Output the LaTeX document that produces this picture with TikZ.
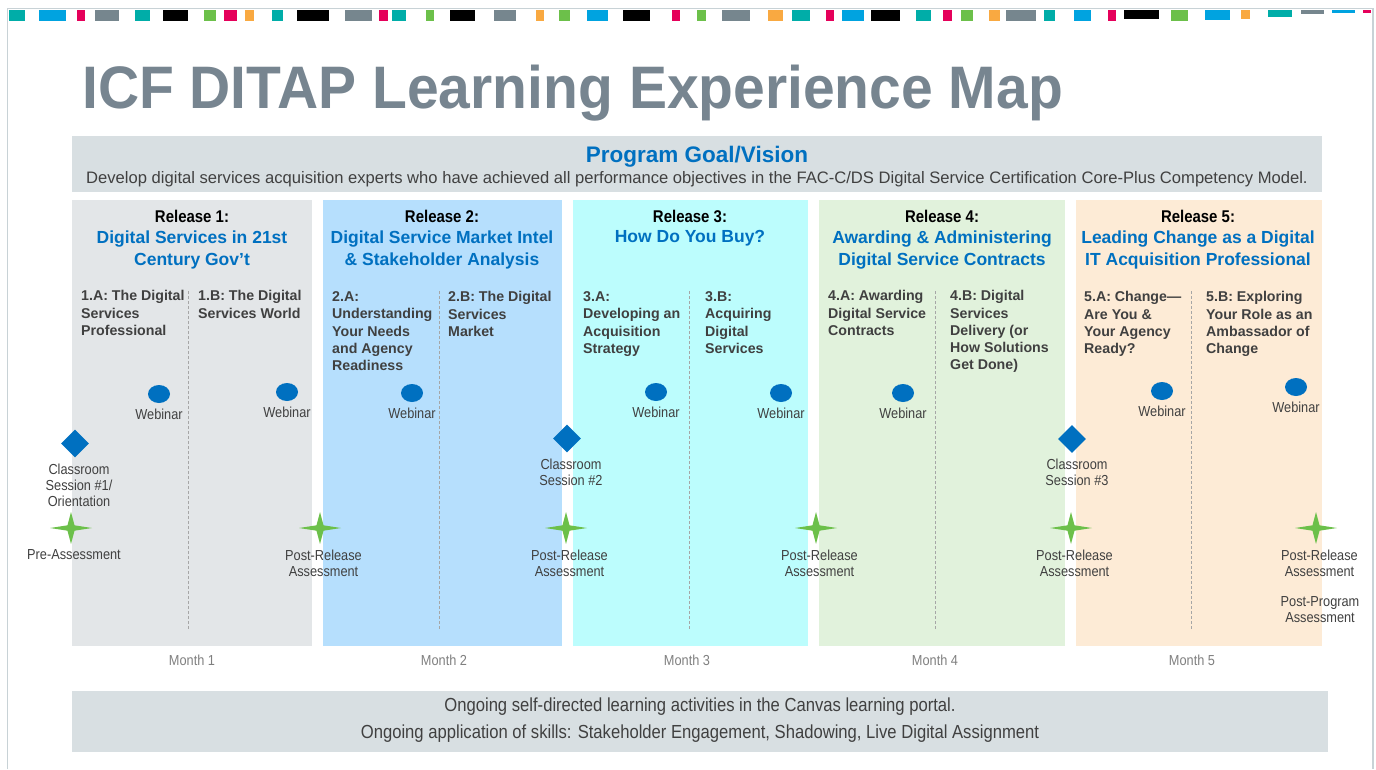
\documentclass[tikz,border=0pt]{standalone}
\usepackage{fontspec}
\setmainfont{Liberation Sans}
\newfontfamily\narrowfont{Liberation Sans}[FakeStretch=0.88]
\newfontfamily\headfont{Liberation Sans}[FakeStretch=0.95]
\usetikzlibrary{shapes.geometric}

\definecolor{slate}{HTML}{778590}
\definecolor{ditapblue}{HTML}{0070C0}
\definecolor{ink}{HTML}{404040}
\definecolor{monthgray}{HTML}{7F7F7F}
\definecolor{goalgray}{HTML}{D8DFE2}
\definecolor{framegray}{HTML}{C8D2D6}
\definecolor{relA}{HTML}{E3E6E8}
\definecolor{relB}{HTML}{B6DFFD}
\definecolor{relC}{HTML}{BCFDFD}
\definecolor{relD}{HTML}{E1F2DC}
\definecolor{relE}{HTML}{FDEBD6}
\definecolor{sparkgreen}{HTML}{6CC04A}
\definecolor{stripteal}{HTML}{00ADA8}
\definecolor{stripsky}{HTML}{00A3E0}
\definecolor{strippink}{HTML}{E5005A}
\definecolor{stripsteel}{HTML}{76868E}
\definecolor{striplime}{HTML}{6CC04A}
\definecolor{stripamber}{HTML}{F9A941}

\begin{document}
\begin{tikzpicture}[x=1pt, y=-1pt,
  every node/.style={inner sep=0pt, text=ink},
  rel/.style={font=\narrowfont\fontsize{17}{20}\selectfont\bfseries, text=black, anchor=base},
  reltitle/.style={font=\fontsize{17.5}{22}\selectfont\bfseries, text=ditapblue, align=center, anchor=north},
  module/.style={font=\fontsize{14.2}{17.2}\selectfont\bfseries, align=left, anchor=north west},
  webinar/.style={ellipse, fill=ditapblue, minimum width=22pt, minimum height=18pt},
  session/.style={diamond, fill=ditapblue, minimum width=28pt, minimum height=28pt},
  spark/.style={star, star points=4, star point ratio=4.2, fill=sparkgreen, minimum size=42pt, yscale=0.76, transform shape},
  marklbl/.style={font=\narrowfont\fontsize{14.5}{16}\selectfont, align=center, anchor=north},
  divider/.style={draw=gray!70, dash pattern=on 3pt off 2pt, line width=0.6pt}
]
\useasboundingbox (0,0) rectangle (1376,769);

% frame and colour strip
\draw[framegray, line width=1.2pt] (7.5,769) -- (7.5,8.5) -- (1373,8.5) -- (1373,769);
\foreach \a/\b/\c/\d in {9/25/stripteal/21, 39/66/stripsky/21, 77/85/strippink/21, 95/119/stripsteel/21,
  135/150/stripteal/21, 163/188/black/21, 204/216/striplime/21, 224/237/strippink/21, 245/254/stripamber/21,
  272/283/stripteal/21, 297/329/black/21, 345/372/stripsteel/21, 379/388/strippink/21, 392/406/stripteal/21,
  426/434/striplime/21, 450/475/black/21, 494/516/stripsteel/21, 536/544/stripamber/21, 559/570/striplime/21,
  587/608/stripsky/21, 623/650/black/21, 672/680/strippink/21, 697/706/striplime/21, 722/750/stripsteel/21,
  768/783/stripamber/21, 792/810/stripteal/21, 826/834/strippink/21, 842/864/stripsky/21, 871/900/black/21,
  916/931/stripteal/21, 943/952/strippink/21, 961/973/striplime/21, 989/1000/stripamber/21, 1006/1036/stripsteel/21,
  1044/1055/stripteal/21, 1074/1091/stripsky/21, 1108/1116/strippink/21, 1124/1159/black/18.5,
  1171/1188/striplime/21, 1205/1230/stripsky/20, 1241/1250/stripamber/18.5, 1268/1292/stripteal/16.5,
  1301/1324/stripsteel/13.5, 1332/1355/stripsky/12.7, 1363/1371/strippink/12.7}
  \fill[\c] (\a,9.5) rectangle (\b,\d);

% title and goal
\node(title) at (82,108) [anchor=base west, font=\headfont\fontsize{60}{60}\selectfont\bfseries, text=slate] {ICF DITAP Learning Experience Map};
\fill[goalgray] (72,136) rectangle (1322,192);
\node(goal) at (697,162) [anchor=base, font=\fontsize{22.5}{24}\selectfont\bfseries, text=ditapblue] {Program Goal/Vision};
\node(vision) at (697,183.5) [anchor=base, font=\fontsize{16.6}{18}\selectfont] {Develop digital services acquisition experts who have achieved all performance objectives in the FAC-C/DS Digital Service Certification Core-Plus Competency Model.};

% release columns
\fill[relA] (72,200) rectangle (312,646);
\fill[relB] (323,200) rectangle (562,646);
\fill[relC] (573,200) rectangle (808,646);
\fill[relD] (819,200) rectangle (1065,646);
\fill[relE] (1076,200) rectangle (1322,646);
\foreach \x in {188,439,689,935,1191}
  \draw[divider] (\x,291) -- (\x,630);

\node[rel](r1) at (192,222) {Release 1:};
\node[rel](r2) at (442,222) {Release 2:};
\node[rel](r3) at (690,222) {Release 3:};
\node[rel](r4) at (942,222) {Release 4:};
\node[rel](r5) at (1198,222) {Release 5:};
\node[reltitle](t1) at (192,230.5) {Digital Services in 21st\\Century Gov’t};
\node[reltitle](t2) at (442,230.5) {Digital Service Market Intel\\\& Stakeholder Analysis};
\node[reltitle](t3) at (690,230.5) {How Do You Buy?};
\node[reltitle](t4) at (942,230.5) {Awarding \& Administering\\Digital Service Contracts};
\node[reltitle](t5) at (1198,230.5) {Leading Change as a Digital\\IT Acquisition Professional};

\node[module](m1a) at (81,290.5) {1.A: The Digital\\Services\\Professional};
\node[module](m1b) at (198,290.5) {1.B: The Digital\\Services World};
\node[module](m2a) at (332,291.5) {2.A:\\Understanding\\Your Needs\\and Agency\\Readiness};
\node[module](m2b) at (448,291.5) {2.B: The Digital\\Services\\Market};
\node[module](m3a) at (583,291.5) {3.A:\\Developing an\\Acquisition\\Strategy};
\node[module](m3b) at (705,291.5) {3.B:\\Acquiring\\Digital\\Services};
\node[module](m4a) at (828,290.5) {4.A: Awarding\\Digital Service\\Contracts};
\node[module](m4b) at (950,290.5) {4.B: Digital\\Services\\Delivery (or\\How Solutions\\Get Done)};
\node[module](m5a) at (1084,291.5) {5.A: Change—\\Are You \&\\Your Agency\\Ready?};
\node[module](m5b) at (1206,291.5) {5.B: Exploring\\Your Role as an\\Ambassador of\\Change};

% webinars
\foreach \n/\x/\y in {1/159/394, 2/287/392, 3/412/393, 4/656/392, 5/781/393, 6/903/393, 7/1162/391, 8/1296/387}{
  \node[webinar](w\n) at (\x,\y) {};
  \node[marklbl](wl\n) at (\x,\y+14.5) {Webinar};
}

% classroom sessions
\node[session](c1) at (75,443.5) {};
\node[session](c2) at (567,438.5) {};
\node[session](c3) at (1072,439) {};
\node[marklbl](cl1) at (79,463.5) {Classroom\\Session \#1/\\Orientation};
\node[marklbl](cl2) at (571,458.5) {Classroom\\Session \#2};
\node[marklbl](cl3) at (1077,458.5) {Classroom\\Session \#3};

% assessments
\node[spark](s1) at (71,528) {};
\node[marklbl](sl1) at (74,549.5) {Pre-Assessment};
\foreach \n/\x in {2/320, 3/566, 4/816, 5/1071, 6/1316}{
  \node[spark](s\n) at (\x,528) {};
  \node[marklbl](sl\n) at (\x+3.5,549.5) {Post-Release\\Assessment};
}
\node[marklbl](pp) at (1320,596) {Post-Program\\Assessment};

% months
\foreach \n/\x in {1/192, 2/444, 3/687, 4/935, 5/1192}
  \node(mo\n) at (\x,665) [anchor=base, font=\narrowfont\fontsize{14.5}{16}\selectfont, text=monthgray] {Month \n};

% ongoing activities
\fill[goalgray] (72,691) rectangle (1328,752);
\node(on1) at (700,711.5) [anchor=base, font=\narrowfont\fontsize{18.9}{20}\selectfont] {Ongoing self-directed learning activities in the Canvas learning portal.};
\node(on2) at (700,738.5) [anchor=base, font=\narrowfont\fontsize{18.9}{20}\selectfont] {Ongoing application of skills: Stakeholder Engagement, Shadowing, Live Digital Assignment};
\end{tikzpicture}
\end{document}
